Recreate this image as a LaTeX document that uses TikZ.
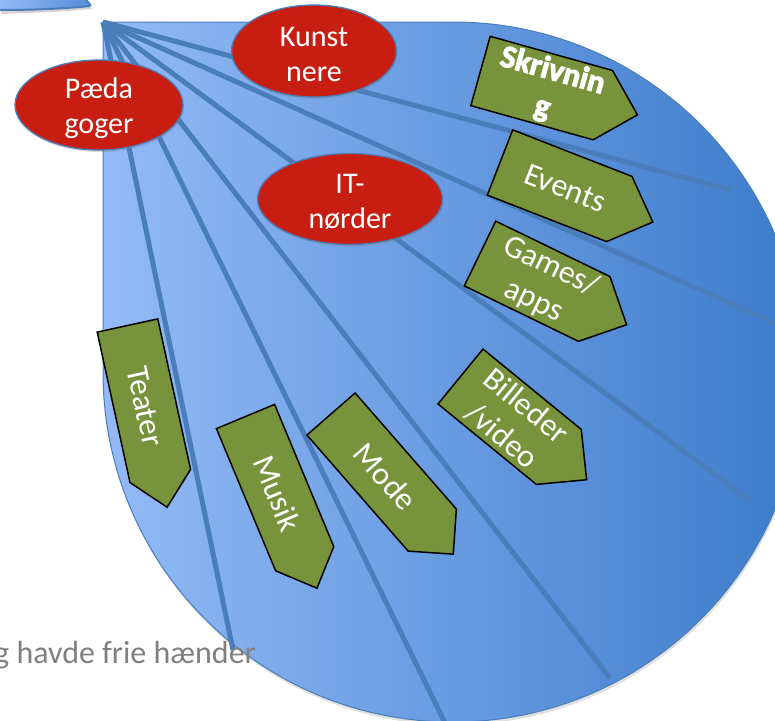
\documentclass[tikz,border=0pt]{standalone}
\usepackage{fontspec}
\setmainfont{Carlito}
\usetikzlibrary{shapes.geometric,shadows}
\definecolor{fanL}{HTML}{93BAF6}
\definecolor{fanR}{HTML}{3B7BCB}
\definecolor{rayc}{HTML}{4A7EBB}
\definecolor{redc}{HTML}{C81E12}
\definecolor{grn}{HTML}{77933C}
\definecolor{graytxt}{HTML}{7F7F7F}
\tikzset{
  ray/.style={rayc, line width=5pt},
  blob/.style={ellipse, fill=redc, draw=rayc, line width=1.3pt, inner sep=0pt,
    drop shadow={shadow xshift=1pt, shadow yshift=-2pt, opacity=0.3}},
  blobtxt/.style={text=white, align=center, inner sep=0pt, font=\fontsize{30}{35}\selectfont},
  gbx/.style={fill=grn, draw=black, line width=1.5pt, line join=miter},
  gtxt/.style={text=white, align=center, inner sep=0pt, font=\fontsize{32}{38}\selectfont},
  heavytxt/.style={align=center, inner sep=0pt, font=\fontsize{32}{38}\selectfont\bfseries\addfontfeature{FakeBold=3}},
}
% #1 name, #2 #3 back-mid, #4 angle, #5 length, #6 height, #7 tip depth, #8 text
\newcommand{\gbox}[8]{%
  \begin{scope}[shift={(#2,#3)}, rotate=#4]
    \draw[gbx] (0,-#6/2) -- ({#5-#7},-#6/2) -- (#5,0) -- ({#5-#7},#6/2) -- (0,#6/2) -- cycle;
    \node[gtxt, rotate=#4] (#1) at ({(#5-#7)/2+6},0) {#8};
  \end{scope}}
\begin{document}
\begin{tikzpicture}[x=1pt, y=-1pt]
\useasboundingbox (0,0) rectangle (775,720);
\clip (0,0) rectangle (775,720);

% top-left partial shape
\path[left color=fanL, right color=fanR!70!fanL,
  drop shadow={shadow xshift=1pt, shadow yshift=-3pt, opacity=0.35}]
  (0,-3) -- (84,-3) -- (91,6) .. controls (60,9) and (30,10) .. (0,11) -- cycle;
\draw[rayc, line width=2pt] (0,10) .. controls (30,10) and (60,9) .. (90,6);
\draw[rayc, line width=2pt] (91,6) -- (84,-3);

% fan shape
\path[left color=fanL, right color=fanR, draw=rayc, line width=1pt,
  drop shadow={shadow xshift=1pt, shadow yshift=-3pt, opacity=0.25}]
  (103,22) -- (453,22) arc[start angle=-90, end angle=180, radius=350] -- cycle;

% rays
\coordinate (apex) at (103,22);
\coordinate (r1) at (731,190);
\coordinate (r2) at (790,330);
\coordinate (r3) at (751,501);
\coordinate (r4) at (610,678);
\coordinate (r5) at (446,725);
\coordinate (r6) at (233,650);
\foreach \r in {r1,r2,r3,r4,r5,r6} \draw[ray] (apex) -- (\r);

% red ellipses
\node[blob, minimum width=168pt, minimum height=90pt] (paed) at (99,105) {};
\node[blobtxt] (paedt) at (99,108) {Pæda\\goger};
\node[blob, minimum width=165pt, minimum height=92pt] (kunst) at (314,51) {};
\node[blobtxt] (kunstt) at (314,54) {Kunst\\nere};
\node[blob, minimum width=185pt, minimum height=91pt] (itn) at (350,199) {};
\node[blobtxt] (itnt) at (350,202) {IT-\\nørder};

% green arrows
\begin{scope}[shift={(480.5,71)}, rotate=-15.6]
  \draw[gbx] (0,-36) -- (127,-36) -- (163,0) -- (127,36) -- (0,36) -- cycle;
  \node[heavytxt, text=white, rotate=-15.6] (skriv) at (69.5,0) {Skrivnin\\g};
\end{scope}
\gbox{events}{500}{162.5}{-21.3}{164}{70}{36}{Events}
\gbox{games}{480}{253.5}{-25.9}{163}{72}{36}{Games/\\apps}
\gbox{bill}{460.5}{376.5}{-39.3}{163}{71}{36}{Billeder\\/video}
\gbox{mode}{331}{414}{-48.9}{186}{64}{32}{Mode}
\gbox{musik}{245.5}{416.5}{-67.4}{186}{63}{32}{Musik}
\gbox{teater}{127.5}{325.5}{-77.7}{186}{62}{32}{Teater}

% gray text
\node[anchor=base west, inner sep=0pt, text=graytxt, font=\fontsize{32}{38}\selectfont] (note) at (-6,663) {g havde frie hænder};
\end{tikzpicture}
\end{document}
